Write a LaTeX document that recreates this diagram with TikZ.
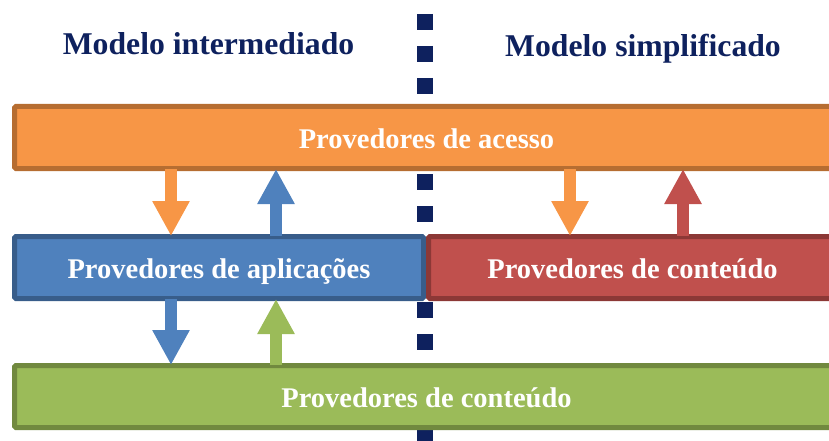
\documentclass[tikz,border=0pt]{standalone}
\usepackage{fontspec}
\setmainfont{Liberation Serif}
\usetikzlibrary{arrows.meta,calc}
\definecolor{laranja}{HTML}{F79646}
\definecolor{laranjaesc}{HTML}{B66D31}
\definecolor{azul}{HTML}{4F81BD}
\definecolor{azulesc}{HTML}{385D8A}
\definecolor{vermelho}{HTML}{C0504D}
\definecolor{vermelhoesc}{HTML}{8C3836}
\definecolor{verde}{HTML}{9BBB59}
\definecolor{verdeesc}{HTML}{71893F}
\definecolor{marinho}{HTML}{0E215E}
\tikzset{
    caixa/.style 2 args={draw=#2, fill=#1, line width=5pt, rounded corners=1.5pt,
      minimum height=62pt, text=white, text height=22pt, text depth=0pt,
      font=\bfseries\fontsize{28.5}{30}\selectfont},
    seta/.style={draw=#1, line width=12pt, shorten <=-2pt, shorten >=-2pt,
      -{Triangle[length=35pt,width=35pt]}},
    titulo/.style={text=marinho, anchor=base, font=\bfseries\fontsize{31.7}{33}\selectfont},
    divisao/.style={draw=marinho, line width=16pt, dash pattern=on 16pt off 16pt},
  }
\begin{document}
\begin{tikzpicture}[x=1pt,y=-1pt]
  \useasboundingbox (0,0) rectangle (829,441);
  \clip (0,0) rectangle (829,441);

  %LINHA
  \coordinate (L1) at (425,14);
  \coordinate (L2) at (425,441);
  \draw[divisao] (L1) -- (L2);

  %TITULOS
  \node[titulo] (mi) at (208.5,55) {Modelo intermediado};
  \node[titulo] (ms) at (643,57) {Modelo simplificado};

  %CAIXAS
  \node[caixa={laranja}{laranjaesc}, minimum width=824pt] (acesso) at (426.5,137.5) {Provedores de acesso};
  \node[caixa={azul}{azulesc}, minimum width=409pt] (aplic) at (219,267.5) {Provedores de aplicações};
  \node[caixa={vermelho}{vermelhoesc}, minimum width=408pt] (cont1) at (632.5,267.5) {Provedores de conteúdo};
  \node[caixa={verde}{verdeesc}, minimum width=824pt] (cont2) at (426.5,396.5) {Provedores de conteúdo};

  %SETAS
  \coordinate (x1) at (171,0);
  \coordinate (x2) at (276,0);
  \coordinate (x3) at (570,0);
  \coordinate (x4) at (683,0);
  \draw[seta=laranja] (acesso.south -| x1) -- (aplic.north -| x1);
  \draw[seta=azul] (aplic.north -| x2) -- (acesso.south -| x2);
  \draw[seta=laranja] (acesso.south -| x3) -- (cont1.north -| x3);
  \draw[seta=vermelho] (cont1.north -| x4) -- (acesso.south -| x4);
  \draw[seta=azul] (aplic.south -| x1) -- (cont2.north -| x1);
  \draw[seta=verde] (cont2.north -| x2) -- (aplic.south -| x2);
\end{tikzpicture}
\end{document}
